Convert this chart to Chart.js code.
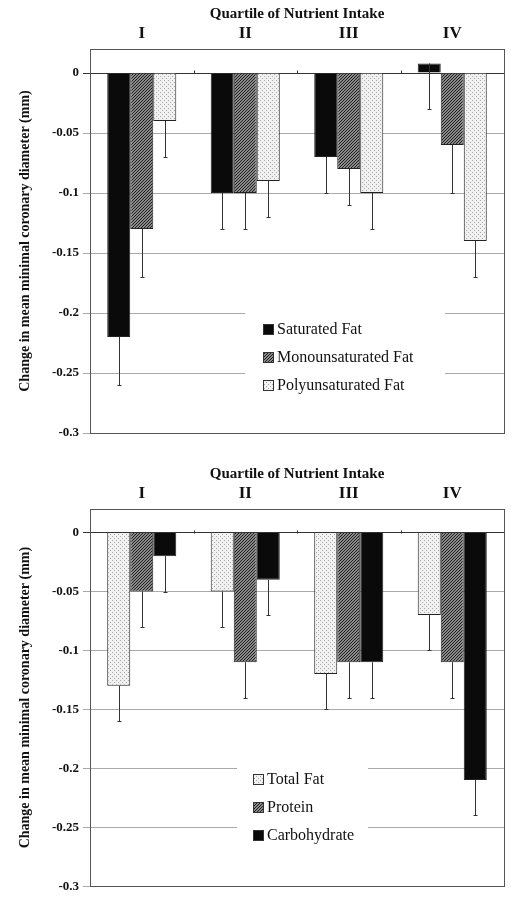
<!DOCTYPE html>
<html>
<head>
<meta charset="utf-8">
<script src="https://cdn.jsdelivr.net/npm/chart.js@4.4.1/dist/chart.umd.min.js"></script>
<style>
  body { margin: 0; background: #fff; width: 518px; height: 898px; overflow: hidden; }
  .box { position: absolute; left: 0; width: 518px; }
</style>
</head>
<body>
<div class="box" style="top:0;height:450px"><canvas id="fatChart"></canvas></div>
<div class="box" style="top:460px;height:438px"><canvas id="macroChart"></canvas></div>
<script>
// categories + ticks
const quartiles = ['I', 'II', 'III', 'IV'];
const yTicks = [0, -0.05, -0.1, -0.15, -0.2, -0.25, -0.3];

// top panel: fat types (bar value, lower end of error bar)
const saturatedFat = [-0.22, -0.10, -0.07, 0.008];
const saturatedErr = [-0.26, -0.13, -0.10, -0.03];
const monoFat = [-0.13, -0.10, -0.08, -0.06];
const monoErr = [-0.17, -0.13, -0.11, -0.10];
const polyFat = [-0.04, -0.09, -0.10, -0.14];
const polyErr = [-0.07, -0.12, -0.13, -0.17];

// bottom panel: macronutrients
const totalFat = [-0.13, -0.05, -0.12, -0.07];
const totalFatErr = [-0.16, -0.08, -0.15, -0.10];
const protein = [-0.05, -0.11, -0.11, -0.11];
const proteinErr = [-0.08, -0.14, -0.14, -0.14];
const carbohydrate = [-0.02, -0.04, -0.11, -0.21];
const carbohydrateErr = [-0.05, -0.07, -0.14, -0.24];

const SERIF = "'Liberation Serif', 'Times New Roman', serif";
Chart.defaults.font.family = SERIF;
Chart.defaults.color = '#111';

function hatchPattern() {
    const c = document.createElement('canvas');
    c.width = c.height = 3;
    const g = c.getContext('2d');
    g.fillStyle = '#8a8a8a';
    g.fillRect(0, 0, 3, 3);
    g.strokeStyle = '#1e1e1e';
    g.lineWidth = 1;
    g.beginPath();
    g.moveTo(0, 3); g.lineTo(3, 0);
    g.moveTo(-1, 1); g.lineTo(1, -1);
    g.moveTo(2, 4); g.lineTo(4, 2);
    g.stroke();
    return g.createPattern(c, 'repeat');
}

function dotPattern() {
    const c = document.createElement('canvas');
    c.width = c.height = 4;
    const g = c.getContext('2d');
    g.fillStyle = '#f1f1f1';
    g.fillRect(0, 0, 4, 4);
    g.fillStyle = '#a8a8a8';
    g.fillRect(0, 0, 1, 1);
    g.fillRect(2, 2, 1, 1);
    return g.createPattern(c, 'repeat');
}

const BLACK = '#0a0a0a';
const HATCH = hatchPattern();
const DOTS = dotPattern();

// error bars, drawn downward from the bar end to the err value
const errorBars = {
    id: 'errorBars',
    afterDatasetsDraw(chart) {
        const ctx = chart.ctx, y = chart.scales.y;
        ctx.save();
        ctx.strokeStyle = '#333';
        ctx.lineWidth = 1;
        chart.data.datasets.forEach((ds, i) => {
            chart.getDatasetMeta(i).data.forEach((bar, j) => {
                const x = Math.round(bar.x) + 0.5;
                const y0 = y.getPixelForValue(ds.data[j]);
                const y1 = Math.round(y.getPixelForValue(ds.err[j])) + 0.5;
                ctx.beginPath();
                ctx.moveTo(x, y0);
                ctx.lineTo(x, y1);
                ctx.moveTo(x - 2, y1);
                ctx.lineTo(x + 2, y1);
                ctx.stroke();
            });
        });
        ctx.restore();
    }
};

// frame round the plot + boxed legend inside it
const frameLegend = {
    id: 'frameLegend',
    beforeDatasetsDraw(chart, args, opts) {
        const ctx = chart.ctx, b = opts.box;
        ctx.save();
        ctx.fillStyle = '#fff';
        ctx.fillRect(b[0], b[1], b[2] - b[0], b[3] - b[1]);
        ctx.restore();
    },
    afterDraw(chart, args, opts) {
        const ctx = chart.ctx, a = chart.chartArea;
        ctx.save();
        ctx.strokeStyle = '#555';
        ctx.lineWidth = 1;
        ctx.strokeRect(Math.round(a.left) + 0.5, Math.round(a.top) + 0.5,
            Math.round(a.right - a.left), Math.round(a.bottom - a.top));

        // little category ticks sitting on the zero line
        const x = chart.scales.x, z = Math.round(chart.scales.y.getPixelForValue(0)) + 0.5;
        ctx.strokeStyle = '#333';
        ctx.beginPath();
        for (let k = 1; k < quartiles.length; k++) {
            const px = Math.round((x.getPixelForValue(k - 1) + x.getPixelForValue(k)) / 2) + 0.5;
            ctx.moveTo(px, z - 3);
            ctx.lineTo(px, z);
        }
        ctx.stroke();

        ctx.font = '16px ' + SERIF;
        ctx.textBaseline = 'middle';
        chart.data.datasets.forEach((ds, i) => {
            const cy = opts.y + i * opts.gap;
            ctx.fillStyle = ds.backgroundColor;
            ctx.fillRect(opts.x, cy - 5, 10, 10);
            ctx.strokeStyle = '#333';
            ctx.strokeRect(opts.x + 0.5, cy - 5 + 0.5, 10, 10);
            ctx.fillStyle = '#111';
            ctx.fillText(ds.label, opts.x + 14, cy + 1);
        });
        ctx.restore();
    }
};

function makeChart(id, datasets, legendOpts, padBottom) {
    return new Chart(document.getElementById(id), {
        type: 'bar',
        data: { labels: quartiles, datasets: datasets },
        plugins: [errorBars, frameLegend],
        options: {
            responsive: true,
            maintainAspectRatio: false,
            animation: false,
            layout: { padding: { left: 0, right: 14, top: 0, bottom: padBottom } },
            datasets: {
                bar: { categoryPercentage: 0.667, barPercentage: 1, borderColor: '#222', borderWidth: 1 }
            },
            plugins: {
                legend: { display: false },
                tooltip: { enabled: false },
                frameLegend: legendOpts
            },
            scales: {
                x: {
                    position: 'top',
                    grid: { display: false, drawTicks: false },
                    border: { display: false },
                    ticks: { font: { size: 17, weight: 'bold' }, padding: 5 },
                    title: {
                        display: true, text: 'Quartile of Nutrient Intake',
                        font: { size: 15, weight: 'bold' }, padding: { top: 5, bottom: 0 }
                    },
                    afterFit: s => { s.height = 49; }
                },
                y: {
                    min: -0.3, max: 0.02,
                    afterBuildTicks: s => { s.ticks = yTicks.map(v => ({ value: v })); },
                    afterFit: s => { s.width = 90; },
                    ticks: {
                        font: { size: 13, weight: 'bold' }, padding: 4,
                        callback: v => String(+v.toFixed(2))
                    },
                    grid: {
                        color: c => (c.tick && c.tick.value === 0) ? '#333' : '#aaa',
                        tickLength: 7
                    },
                    border: { display: false },
                    title: {
                        display: true, text: 'Change in mean minimal coronary diameter (mm)',
                        font: { size: 14, weight: 'bold' }, padding: { top: 17, bottom: 0 }
                    }
                }
            }
        }
    });
}

makeChart('fatChart', [
    { label: 'Saturated Fat', data: saturatedFat, err: saturatedErr, backgroundColor: BLACK },
    { label: 'Monounsaturated Fat', data: monoFat, err: monoErr, backgroundColor: HATCH },
    { label: 'Polyunsaturated Fat', data: polyFat, err: polyErr, backgroundColor: DOTS }
], { x: 263, y: 329, gap: 28, box: [245, 292, 445, 402] }, 17);

makeChart('macroChart', [
    { label: 'Total Fat', data: totalFat, err: totalFatErr, backgroundColor: DOTS },
    { label: 'Protein', data: protein, err: proteinErr, backgroundColor: HATCH },
    { label: 'Carbohydrate', data: carbohydrate, err: carbohydrateErr, backgroundColor: BLACK }
], { x: 253, y: 319, gap: 28, box: [237, 280, 368, 398] }, 11);
</script>
</body>
</html>
